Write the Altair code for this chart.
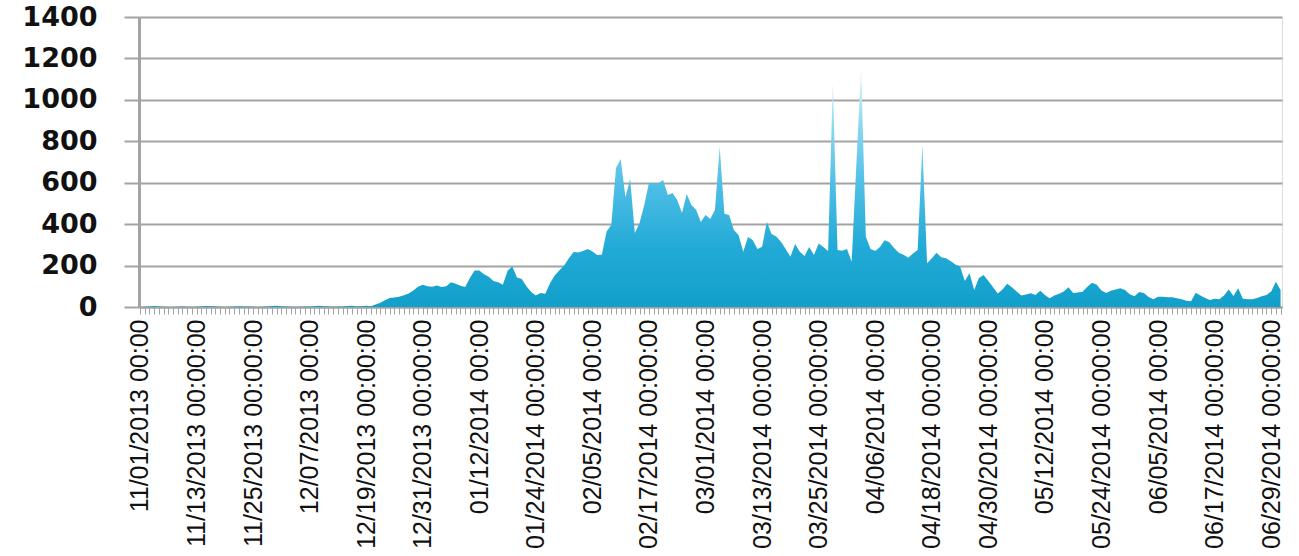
import altair as alt
import pandas as pd

# Daily counts, 11/01/2013 .. 07/01/2014
start_date = "2013-11-01"
counts = [
    0, 1, 3, 5, 3, 1, 0, 0, 1, 2,
    1, 0, 1, 3, 5, 4, 2, 1, 0, 1,
    2, 4, 3, 2, 1, 0, 1, 3, 5, 6,
    4, 2, 1, 0, 1, 2, 3, 4, 6, 4,
    2, 1, 2, 3, 5, 6, 3, 4, 6, 4,
    12, 20, 32, 43, 46, 50, 57, 65, 80, 98,
    108, 100, 98, 104, 96, 100, 120, 112, 102, 97,
    140, 176, 176, 158, 146, 125, 119, 108, 175, 196,
    142, 135, 100, 72, 55, 67, 64, 115, 152, 178,
    200, 235, 266, 263, 270, 280, 268, 251, 252, 365,
    396, 671, 715, 530, 618, 357, 406, 493, 600, 598,
    598, 613, 541, 550, 517, 454, 546, 493, 469, 410,
    444, 425, 469, 774, 450, 444, 372, 348, 267, 338,
    324, 280, 291, 412, 353, 340, 315, 280, 243, 304,
    267, 246, 290, 251, 307, 290, 270, 1080, 275, 272,
    280, 219, 690, 1160, 340, 280, 270, 290, 322, 312,
    285, 262, 252, 238, 258, 275, 782, 211, 235, 262,
    240, 235, 222, 205, 195, 125, 163, 82, 140, 155,
    125, 95, 65, 85, 112, 95, 75, 55, 60, 66,
    58, 79, 58, 42, 55, 64, 75, 95, 68, 70,
    74, 98, 117, 108, 80, 68, 78, 85, 90, 82,
    62, 52, 72, 68, 48, 37, 50, 50, 47, 47,
    42, 37, 30, 28, 69, 55, 44, 34, 40, 38,
    55, 85, 53, 90, 40, 37, 37, 44, 52, 58,
    75, 122, 82,
]

# Category labels shown every 12th day
tick_labels = [
    "11/01/2013 00:00", "11/13/2013 00:00:00", "11/25/2013 00:00:00",
    "12/07/2013 00:00", "12/19/2013 00:00:00", "12/31/2013 00:00:00",
    "01/12/2014 00:00", "01/24/2014 00:00:00", "02/05/2014 00:00",
    "02/17/2014 00:00:00", "03/01/2014 00:00", "03/13/2014 00:00:00",
    "03/25/2014 00:00:00", "04/06/2014 00:00", "04/18/2014 00:00:00",
    "04/30/2014 00:00:00", "05/12/2014 00:00", "05/24/2014 00:00:00",
    "06/05/2014 00:00", "06/17/2014 00:00:00", "06/29/2014 00:00:00",
]
label_step = 12
y_ticks = [0, 200, 400, 600, 800, 1000, 1200, 1400]

dates = pd.date_range(start_date, periods=len(counts), freq="D")
df = pd.DataFrame({"day": range(len(counts)), "date": dates, "count": counts})

label_array = "[" + ",".join("'" + s + "'" for s in tick_labels) + "]"
label_expr = (
    f"datum.value % {label_step} == 0 ? {label_array}[datum.value / {label_step}] : ''"
)

gray = "#a3a3a3"

fill = alt.Gradient(
    gradient="linear",
    x1=1, x2=1, y1=0, y2=1,
    stops=[
        alt.GradientStop(color="#eaf8fd", offset=0.0),
        alt.GradientStop(color="#8ad6f1", offset=0.25),
        alt.GradientStop(color="#4dbee5", offset=0.5),
        alt.GradientStop(color="#22aad6", offset=0.75),
        alt.GradientStop(color="#11a0ca", offset=1.0),
    ],
)

chart = (
    alt.Chart(df)
    .mark_area(color=fill, interpolate="linear")
    .encode(
        x=alt.X(
            "day:Q",
            scale=alt.Scale(domain=[-0.2, 242.3], nice=False, zero=False),
            axis=alt.Axis(
                values=list(range(len(counts))),
                labelExpr=label_expr,
                labelAngle=270,
                labelAlign="right",
                labelBaseline="middle",
                labelOverlap=False,
                labelBound=False,
                labelFlush=False,
                labelLimit=0,
                labelFont="Liberation Sans",
                labelFontSize=25,
                labelColor="#111111",
                labelPadding=5,
                tickSize=7,
                tickColor=gray,
                tickWidth=1,
                domainColor=gray,
                domainWidth=2,
                grid=False,
                title=None,
            ),
        ),
        y=alt.Y(
            "count:Q",
            scale=alt.Scale(domain=[0, 1400], nice=False),
            axis=alt.Axis(
                values=y_ticks,
                format="d",
                labelFont="DejaVu Sans",
                labelFontWeight="bold",
                labelFontSize=27,
                labelColor="#111111",
                labelPadding=27,
                tickSize=15,
                tickColor=gray,
                tickWidth=2,
                domainColor=gray,
                domainWidth=3,
                gridColor=gray,
                gridWidth=2,
                title=None,
            ),
        ),
    )
    .properties(
        width=1143,
        height=290,
        autosize="none",
        padding={"left": 139, "top": 17, "right": 17, "bottom": 249},
    )
    .configure_view(stroke=None)
    .configure(background="white")
)

chart.save("out.html", embed_options={"renderer": "svg", "actions": False})
